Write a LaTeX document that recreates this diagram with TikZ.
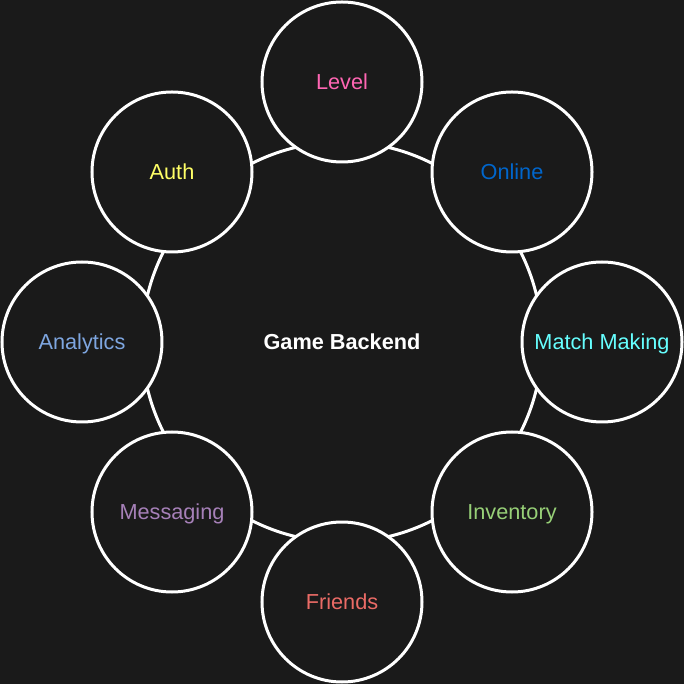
\documentclass[tikz,border=0pt]{standalone}
\usepackage{fontspec}
\setmainfont{Liberation Sans}
\definecolor{bgdark}{HTML}{1A1A1A}
\definecolor{levelpink}{HTML}{FF66B3}
\definecolor{onlineblue}{HTML}{0066CC}
\definecolor{matchcyan}{HTML}{66FFFF}
\definecolor{invgreen}{HTML}{97D077}
\definecolor{friendred}{HTML}{EA6B66}
\definecolor{msgpurple}{HTML}{A680B8}
\definecolor{analyticsblue}{HTML}{7EA6E0}
\definecolor{authyellow}{HTML}{FFFF66}

\tikzset{every path/.style={line width=3pt}}
\tikzset{
  hub/.style={circle,draw=white,fill=bgdark,minimum size=400pt,inner sep=0pt,
    font=\fontsize{21.7}{24}\selectfont\bfseries,text=white,
    text height=15.6pt,text depth=0pt},
  service/.style={circle,draw=white,fill=bgdark,minimum size=160pt,inner sep=0pt,
    font=\fontsize{21.7}{24}\selectfont,text height=15.6pt,text depth=0pt}
}

\begin{document}
\begin{tikzpicture}[x=1pt,y=1pt]
\fill[bgdark] (-342,-342) rectangle (342,342);
\useasboundingbox (-342,-342) rectangle (342,342);

\node[hub] (backend) at (0,0) {Game Backend};

\node[service,text=levelpink] (level) at (0,260) {Level};
\node[service,text=onlineblue] (online) at (170,170) {Online};
\node[service,text=matchcyan] (match) at (260,0) {Match Making};
\node[service,text=invgreen] (inventory) at (170,-170) {Inventory};
\node[service,text=friendred] (friends) at (0,-260) {Friends};
\node[service,text=msgpurple] (messaging) at (-170,-170) {Messaging};
\node[service,text=analyticsblue] (analytics) at (-260,0) {Analytics};
\node[service,text=authyellow] (auth) at (-170,170) {Auth};

\end{tikzpicture}
\end{document}
